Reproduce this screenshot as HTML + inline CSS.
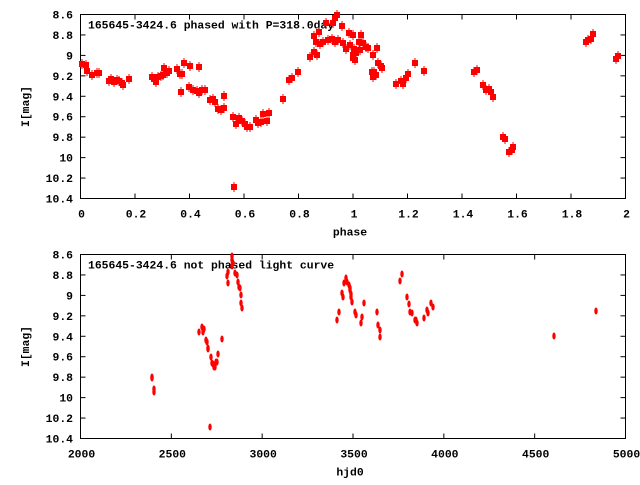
<!DOCTYPE html><html><head><style>body{margin:0;background:#fff}svg text{font-family:"Liberation Mono","DejaVu Sans Mono",monospace;font-weight:bold;font-size:11.4px;fill:#000}</style></head><body>
<svg id="s" width="640" height="480" xmlns="http://www.w3.org/2000/svg"></svg>
<script>
var s=document.getElementById('s'),h='';
function ln(a,b,c,d){h+='<line x1="'+a+'" y1="'+b+'" x2="'+c+'" y2="'+d+'" stroke="#000" stroke-width="1"/>';}
function tx(x,y,t,a){h+='<text x="'+x+'" y="'+y+'" text-anchor="'+(a||'end')+'">'+t+'</text>';}
function frame(T,B,xl,title,xt){
 var L=80.5,R=625.5;
 h+='<rect x="'+L+'" y="'+T+'" width="545" height="'+(B-T)+'" fill="none" stroke="#000"/>';
 var ml=['8.6','8.8','9','9.2','9.4','9.6','9.8','10','10.2','10.4'];
 for(var i=0;i<10;i++){var y=T+(B-T)*i/9;ln(L,y,L+5,y);ln(R,y,R-5,y);tx(73,y+4,ml[i]);}
 for(var i=0;i<xl.length;i++){var x=L+545*i/(xl.length-1);ln(x,T,x,T+5);ln(x,B,x,B-5);tx(x+1,B+19,xl[i],'middle');}
 tx(88,T+14,title,'start');
 h+='<text x="0" y="0" text-anchor="middle" transform="translate(29,'+((T+B)/2)+') rotate(-90)">I[mag]</text>';
 tx(350,B+37,xt,'middle');
}
frame(14.5,198.5,['0','0.2','0.4','0.6','0.8','1','1.2','1.4','1.6','1.8','2'],'165645-3424.6 phased with P=318.0day','phase');
frame(254.5,438.5,['2000','2500','3000','3500','4000','4500','5000'],'165645-3424.6 not phased light curve','hjd0');
var A=[82,64,86,65,87,71,92,75,97,73,99,73,109,81,111,79,114,82,117,80,119,81,122,83,123,85,129,79,152,77,154,79,156,82,158,77,161,76,163,75,164,68,167,73,169,71,177,69,180,74,182,74,181,92,184,63,190,66,189,87,193,90,197,91,199,93,202,90,205,90,199,67,210,100,213,99,215,102,218,109,221,110,224,108,224,96,233,117,236,124,239,118,242,121,245,124,247,127,250,127,256,120,258,123,261,122,263,114,267,121,269,113,234,187,283,99,289,80,292,78,298,72,310,57,314,52,317,55,314,36,319,32,326,23,333,23,335,18,337,15,342,26,316,42,320,44,323,42,328,40,332,39,335,42,338,40,343,43,346,49,349,33,353,35,350,45,354,49,353,55,355,60,356,53,360,50,359,42,361,35,363,43,366,47,368,48,373,55,377,48,378,63,381,66,382,68,372,72,374,72,376,75,373,77,353,58,355,52,396,84,401,81,403,84,406,78,408,74,415,63,424,71,474,72,477,70,483,85,486,90,489,89,491,92,493,97,503,137,505,139,509,152,512,150,513,147,586,42,588,40,591,39,593,34,616,59,618,56];
for(var i=0;i<A.length;i+=2){var x=A[i],y=A[i+1];h+='<rect x="'+(x-3)+'" y="'+(y-3)+'" width="6" height="6" fill="#f00"/><rect x="'+(x-0.5)+'" y="'+(y-5)+'" width="1" height="10" fill="#f00"/>';}
var B=[152,378,154,389,152,377,154,392,199,332,202,327,203,332,204,329,206,340,207,342,208,349,208,348,211,357,212,363,213,364,215,367,216,362,217,362,218,354,222,339,210,427,214,367,227,276,228,272,228,283,232,260,232,256,233,263,232,266,235,273,237,275,238,282,239,287,240,288,241,295,241,303,242,308,337,320,339,312,342,293,343,297,344,283,346,278,347,282,349,285,350,290,351,297,352,302,351,294,350,288,355,312,356,315,361,323,362,317,364,303,377,312,378,325,380,330,380,337,400,281,402,274,407,297,409,304,410,312,412,313,415,320,417,323,416,320,424,318,427,310,428,313,431,303,433,307,554,336,596,311];
for(var i=0;i<B.length;i+=2){h+='<ellipse cx="'+B[i]+'" cy="'+B[i+1]+'" rx="1.7" ry="3.5" fill="#f00"/>';}
s.innerHTML=h;
</script></body></html>
